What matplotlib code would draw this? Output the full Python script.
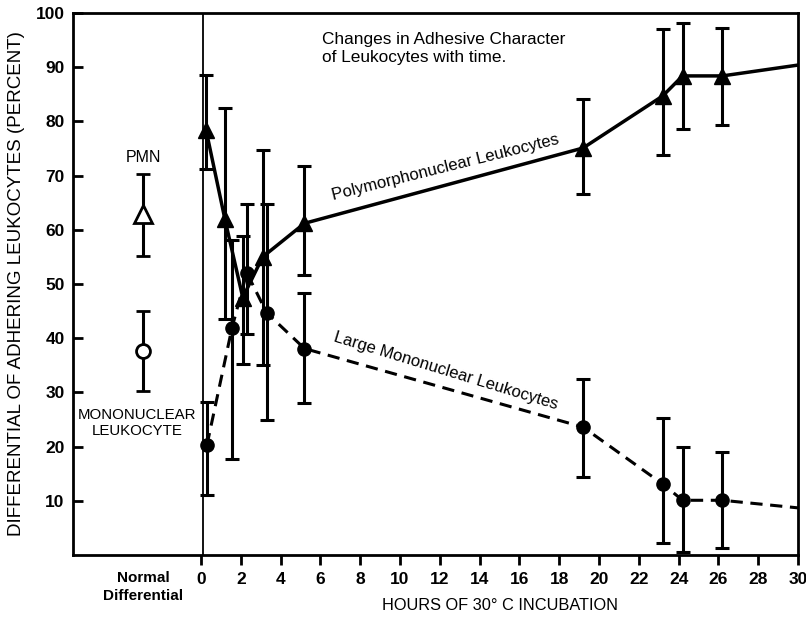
import numpy as np
import matplotlib.pyplot as plt

plt.rcParams['font.family'] = ['Liberation Sans', 'DejaVu Sans']

# Polymorphonuclear leukocytes (solid line, filled triangles)
pmn_hours = [0.25, 1.2, 2.1, 3.1, 5.2, 19.2, 23.2, 24.2, 26.2]
pmn_mean = [78.5, 62.0, 47.5, 55.0, 61.2, 75.1, 84.7, 88.4, 88.4]
pmn_hi = [88.6, 82.5, 58.8, 74.7, 71.8, 84.2, 97.0, 98.2, 97.3]
pmn_lo = [71.3, 43.6, 35.3, 35.0, 51.7, 66.6, 73.8, 78.6, 79.4]
pmn_end = (30, 90.4)

# Large mononuclear leukocytes (dashed line, filled circles)
mono_hours = [0.3, 1.55, 2.3, 3.3, 5.2, 19.2, 23.2, 24.2, 26.2]
mono_mean = [20.3, 41.8, 52.1, 44.7, 38.1, 23.6, 13.1, 10.1, 10.1]
mono_hi = [28.2, 58.2, 64.8, 64.8, 48.3, 32.4, 25.2, 19.9, 19.0]
mono_lo = [11.0, 17.7, 40.7, 25.0, 28.0, 14.4, 2.2, 0.6, 1.3]
mono_end = (30, 8.7)

# Normal differential (open markers at left)
normal_x = -2.9
normal_pmn = (63.0, 70.3, 55.2)
normal_mono = (37.6, 45.1, 30.2)

x_ticks = list(range(0, 31, 2))
y_ticks = list(range(10, 101, 10))

fig = plt.figure(figsize=(8.06, 6.27), dpi=100)
ax = fig.add_axes([0.0906, 0.1148, 0.8995, 0.8644])

ax.axvline(0.12, color='black', lw=1.3)

# lines
ax.plot(pmn_hours + [pmn_end[0]], pmn_mean + [pmn_end[1]], color='black', lw=2.5)
ax.plot(mono_hours + [mono_end[0]], mono_mean + [mono_end[1]], color='black', lw=2.2,
        dashes=(4, 2.5))

# error bars and markers
pmn_err = [np.array(pmn_mean) - np.array(pmn_lo), np.array(pmn_hi) - np.array(pmn_mean)]
ax.errorbar(pmn_hours, pmn_mean, yerr=pmn_err, fmt='^', color='black', ms=12,
            elinewidth=2.2, capsize=5, capthick=2.2)
mono_err = [np.array(mono_mean) - np.array(mono_lo), np.array(mono_hi) - np.array(mono_mean)]
ax.errorbar(mono_hours, mono_mean, yerr=mono_err, fmt='o', color='black', ms=9.5,
            elinewidth=2.2, capsize=5, capthick=2.2)

for mean, hi, lo, mk in [(*normal_pmn, '^'), (*normal_mono, 'o')]:
    ax.errorbar([normal_x], [mean], yerr=[[mean - lo], [hi - mean]], fmt=mk,
                color='black', mfc='white', mew=2, ms=13 if mk == '^' else 10,
                elinewidth=2.2, capsize=5, capthick=2.2)

# texts
ax.text(normal_x, 73.3, 'PMN', ha='center', va='center', fontsize=11.5)
ax.text(normal_x - 0.3, 24.3, 'MONONUCLEAR\nLEUKOCYTE', ha='center', va='center',
        fontsize=10.8, linespacing=1.2)
ax.text(6.1, 96.5, 'Changes in Adhesive Character\nof Leukocytes with time.',
        ha='left', va='top', fontsize=12.4, linespacing=1.25)
ax.text(12.3, 71.5, 'Polymorphonuclear Leukocytes', ha='center', va='center',
        rotation=14, fontsize=12)
ax.text(12.3, 34.0, 'Large Mononuclear Leukocytes', ha='center', va='center',
        rotation=-17, fontsize=12)
ax.text(normal_x, -3.0, 'Normal\nDifferential', ha='center', va='top',
        fontsize=11, fontweight='bold', linespacing=1.3)

ax.set_xlim(-6.43, 30)
ax.set_ylim(0, 100)
ax.set_xticks(x_ticks)
ax.set_yticks(y_ticks)
ax.tick_params(axis='x', direction='out', length=7, width=2, labelsize=12.5, pad=5)
ax.tick_params(axis='y', direction='in', length=7, width=2, labelsize=12.5, pad=6)
for lab in ax.get_xticklabels() + ax.get_yticklabels():
    lab.set_fontweight('bold')
for sp in ax.spines.values():
    sp.set_linewidth(2)

ax.set_xlabel('HOURS OF 30° C INCUBATION', fontsize=11.8, labelpad=8, x=0.589)
ax.set_ylabel('DIFFERENTIAL OF ADHERING LEUKOCYTES (PERCENT)', fontsize=13.5,
              labelpad=8)

fig.savefig('out.png', dpi=100)
